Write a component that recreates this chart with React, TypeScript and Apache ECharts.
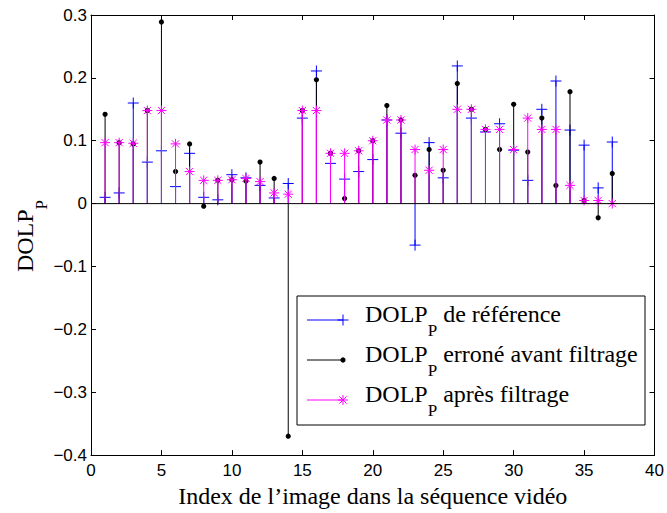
import React, { useEffect, useRef } from 'react';
import * as echarts from 'echarts';

// ---- data ----
const frameIndex = [1, 2, 3, 4, 5, 6, 7, 8, 9, 10, 11, 12, 13, 14, 15, 16, 17, 18, 19, 20, 21, 22, 23, 24, 25, 26, 27, 28, 29, 30, 31, 32, 33, 34, 35, 36, 37];
const dolpReference = [0.010, 0.017, 0.160, 0.066, 0.084, 0.027, 0.080, 0.010, 0.006, 0.046, 0.041, 0.029, 0.009, 0.032, 0.136, 0.211, 0.064, 0.039, 0.051, 0.070, 0.133, 0.112, -0.066, 0.097, 0.041, 0.219, 0.136, 0.114, 0.127, 0.085, 0.037, 0.150, 0.195, 0.117, 0.093, 0.025, 0.098];
const dolpErroneous = [0.142, 0.097, 0.095, 0.148, 0.289, 0.051, 0.095, -0.004, 0.037, 0.038, 0.036, 0.066, 0.040, -0.370, 0.148, 0.197, 0.080, 0.008, 0.084, 0.100, 0.156, 0.133, 0.045, 0.086, 0.053, 0.191, 0.150, 0.118, 0.086, 0.158, 0.082, 0.136, 0.029, 0.178, 0.005, -0.0225, 0.048];
const dolpFiltered = [0.097, 0.097, 0.096, 0.148, 0.148, 0.095, 0.051, 0.037, 0.037, 0.038, 0.040, 0.035, 0.017, 0.015, 0.148, 0.148, 0.080, 0.080, 0.084, 0.100, 0.133, 0.133, 0.086, 0.053, 0.086, 0.150, 0.150, 0.118, 0.118, 0.086, 0.136, 0.118, 0.118, 0.029, 0.005, 0.005, 0.000];
const xRange = [0, 40];
const yRange = [-0.4, 0.3];
const legendLabels = ['de référence', 'erroné avant filtrage', 'après filtrage'];
const xAxisTitle = 'Index de l\u2019image dans la séquence vidéo';

const BLUE = '#0000ff';
const BLACK = '#000000';
const MAGENTA = '#ff00ff';
const SERIF = '"Liberation Serif", "Times New Roman", serif';
const SANS = '"Liberation Sans", Arial, sans-serif';

type Kind = 'plus' | 'dot' | 'star';

function markerShapes(kind: Kind, cx: number, cy: number, color: string): any[] {
  const ln = (x1: number, y1: number, x2: number, y2: number) => ({
    type: 'line',
    shape: { x1, y1, x2, y2 },
    style: { stroke: color, lineWidth: 1 },
  });
  if (kind === 'plus') {
    const h = 5.5;
    return [ln(cx - h, cy, cx + h, cy), ln(cx, cy - h, cx, cy + h)];
  }
  if (kind === 'dot') {
    return [{ type: 'circle', shape: { cx, cy, r: 2.6 }, style: { fill: color } }];
  }
  const h = 5;
  const d = 3.6;
  return [
    ln(cx - h, cy, cx + h, cy),
    ln(cx, cy - h, cx, cy + h),
    ln(cx - d, cy - d, cx + d, cy + d),
    ln(cx - d, cy + d, cx + d, cy - d),
  ];
}

function stemSeries(name: string, values: number[], color: string, kind: Kind) {
  return {
    type: 'custom',
    name,
    data: frameIndex.map((x, i) => [x, values[i]]),
    renderItem: (_params: any, api: any) => {
      const x = api.value(0);
      const y = api.value(1);
      const p0 = api.coord([x, 0]);
      const p1 = api.coord([x, y]);
      return {
        type: 'group',
        children: [
          {
            type: 'line',
            shape: { x1: p0[0], y1: p0[1], x2: p1[0], y2: p1[1] },
            style: { stroke: color, lineWidth: 1 },
          },
          ...markerShapes(kind, p1[0], p1[1], color),
        ],
      };
    },
    silent: true,
  };
}

const richMain = { fontFamily: SERIF, fontSize: 24, color: '#000', verticalAlign: 'top' };
const richSub = { fontFamily: SERIF, fontSize: 17, color: '#000', verticalAlign: 'top', padding: [20, 0, 0, 0] };

function legendGraphic() {
  const left = 297;
  const top = 296;
  const w = 348;
  const h = 129;
  const rows = [
    { y: 320, color: BLUE, kind: 'plus' as Kind, label: legendLabels[0] },
    { y: 360, color: BLACK, kind: 'dot' as Kind, label: legendLabels[1] },
    { y: 400, color: MAGENTA, kind: 'star' as Kind, label: legendLabels[2] },
  ];
  const children: any[] = [
    {
      type: 'rect',
      shape: { x: left, y: top, width: w, height: h },
      style: { fill: '#fff', stroke: '#000', lineWidth: 1 },
    },
  ];
  rows.forEach((r) => {
    children.push({
      type: 'line',
      shape: { x1: 307, y1: r.y, x2: 343, y2: r.y },
      style: { stroke: r.color, lineWidth: 1 },
    });
    children.push(...markerShapes(r.kind, 343, r.y, r.color));
    children.push({
      type: 'text',
      x: 365,
      y: r.y,
      style: {
        text: '{m|DOLP}{s|P}{m| ' + r.label + '}',
        align: 'left',
        verticalAlign: 'middle',
        rich: { m: richMain, s: richSub },
      },
    });
  });
  return { type: 'group', children, z: 100 };
}

const tickFmt = (v: number) => {
  const r = Math.round(v * 10) / 10;
  if (r === 0) return '0';
  return (r < 0 ? '\u2212' : '') + Math.abs(r).toFixed(1);
};

export default function App() {
  const ref = useRef<HTMLDivElement>(null);
  useEffect(() => {
    if (!ref.current) return;
    const chart = echarts.init(ref.current, undefined, { renderer: 'svg' });
    const axisLine = { show: true, onZero: false, lineStyle: { color: '#000', width: 1 } };
    const axisTick = { show: true, inside: true, length: 5, lineStyle: { color: '#000', width: 1 } };
    chart.setOption({
      animation: false,
      backgroundColor: '#fff',
      grid: { left: 91, right: 10, top: 15, bottom: 51, containLabel: false },
      xAxis: [
        {
          type: 'value',
          min: xRange[0],
          max: xRange[1],
          interval: 5,
          position: 'bottom',
          axisLine,
          axisTick,
          splitLine: { show: false },
          axisLabel: { color: '#000', fontFamily: SANS, fontSize: 17, margin: 7 },
          name: xAxisTitle,
          nameLocation: 'middle',
          nameGap: 23,
          nameTextStyle: { color: '#000', fontFamily: SERIF, fontSize: 24, verticalAlign: 'top' },
        },
        {
          type: 'value',
          min: xRange[0],
          max: xRange[1],
          interval: 5,
          position: 'top',
          axisLine,
          axisTick,
          splitLine: { show: false },
          axisLabel: { show: false },
        },
      ],
      yAxis: [
        {
          type: 'value',
          min: yRange[0],
          max: yRange[1],
          interval: 0.1,
          position: 'left',
          axisLine,
          axisTick,
          splitLine: { show: false },
          axisLabel: { color: '#000', fontFamily: SANS, fontSize: 17, margin: 4, formatter: tickFmt },
        },
        {
          type: 'value',
          min: yRange[0],
          max: yRange[1],
          interval: 0.1,
          position: 'right',
          axisLine,
          axisTick,
          splitLine: { show: false },
          axisLabel: { show: false },
        },
      ],
      series: [
        {
          type: 'line',
          data: [[xRange[0], 0], [xRange[1], 0]],
          symbol: 'none',
          lineStyle: { color: '#000', width: 1 },
          silent: true,
        },
        stemSeries('DOLP_P de référence', dolpReference, BLUE, 'plus'),
        stemSeries('DOLP_P erroné avant filtrage', dolpErroneous, BLACK, 'dot'),
        stemSeries('DOLP_P après filtrage', dolpFiltered, MAGENTA, 'star'),
      ],
      graphic: [
        {
          type: 'text',
          x: 31,
          y: 236,
          rotation: Math.PI / 2,
          style: {
            text: '{m|DOLP}{s|P}',
            align: 'center',
            verticalAlign: 'middle',
            rich: { m: richMain, s: richSub },
          },
        },
        legendGraphic(),
      ],
    });
    return () => chart.dispose();
  }, []);
  return (
    <div
      ref={ref}
      style={{ position: 'fixed', left: 0, top: 0, width: 667, height: 513, background: '#fff' }}
    />
  );
}
